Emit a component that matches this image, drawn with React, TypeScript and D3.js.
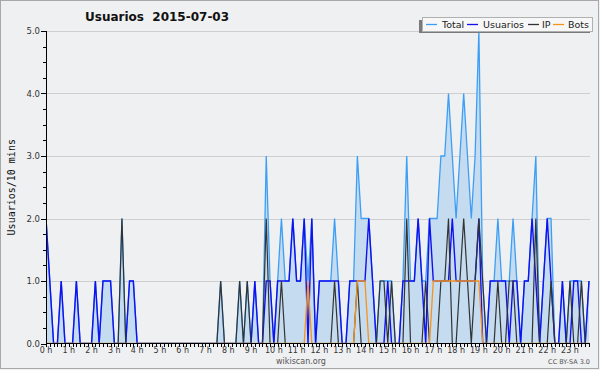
import * as d3 from 'd3';

const W = 600;
const H = 370;
const MARGIN = { top: 31, right: 10, bottom: 27, left: 46 };

// 144 ten-minute slots
const usuarios = [
  2, 1, 0, 0, 1, 0, 0, 0, 1, 0, 0, 0, 0, 1, 0, 1, 1, 1, 0, 0, 0, 0, 1, 1,
  0, 0, 0, 0, 0, 0, 0, 0, 0, 0, 0, 0, 0, 0, 0, 0, 0, 0, 0, 0, 0, 0, 0, 0,
  0, 0, 0, 0, 0, 0, 0, 1, 0, 0, 1, 1, 0, 1, 1, 1, 1, 2, 1, 1, 2, 0, 2, 0,
  1, 1, 1, 1, 1, 1, 0, 0, 1, 1, 1, 1, 1, 2, 1, 0, 0, 0, 1, 0, 0, 0, 1, 1,
  1, 1, 2, 1, 0, 2, 1, 1, 1, 1, 1, 2, 1, 1, 1, 1, 1, 1, 2, 0, 0, 1, 1, 1,
  1, 1, 0, 1, 1, 0, 1, 1, 2, 1, 0, 1, 2, 1, 0, 0, 1, 0, 0, 1, 1, 0, 0, 1,
];

const ip = [
  0, 0, 0, 0, 0, 0, 0, 0, 0, 0, 0, 0, 0, 0, 0, 0, 0, 0, 0, 0, 2, 0, 0, 0,
  0, 0, 0, 0, 0, 0, 0, 0, 0, 0, 0, 0, 0, 0, 0, 0, 0, 0, 0, 0, 0, 0, 1, 0,
  0, 0, 0, 1, 0, 1, 0, 0, 0, 0, 2, 0, 0, 0, 1, 0, 0, 0, 0, 0, 0, 0, 0, 0,
  0, 0, 0, 0, 1, 0, 0, 0, 0, 0, 1, 0, 0, 0, 0, 0, 1, 1, 0, 1, 0, 0, 0, 2,
  0, 0, 0, 0, 1, 0, 0, 0, 1, 1, 2, 0, 0, 1, 2, 1, 0, 1, 2, 1, 0, 0, 0, 1,
  0, 0, 1, 1, 0, 0, 0, 0, 0, 2, 0, 0, 0, 1, 0, 0, 0, 0, 1, 0, 0, 1, 0, 0,
];

const bots = [
  0, 0, 0, 0, 0, 0, 0, 0, 0, 0, 0, 0, 0, 0, 0, 0, 0, 0, 0, 0, 0, 0, 0, 0,
  0, 0, 0, 0, 0, 0, 0, 0, 0, 0, 0, 0, 0, 0, 0, 0, 0, 0, 0, 0, 0, 0, 0, 0,
  0, 0, 0, 0, 0, 0, 0, 0, 0, 0, 0, 0, 0, 0, 0, 0, 0, 0, 0, 0, 0, 1, 0, 0,
  0, 0, 0, 0, 0, 0, 0, 0, 0, 0, 1, 1, 1, 0, 0, 0, 0, 0, 0, 0, 0, 0, 0, 0,
  0, 0, 0, 0, 0, 0, 1, 1, 1, 1, 1, 1, 1, 1, 1, 1, 1, 1, 1, 0, 0, 0, 0, 0,
  0, 0, 0, 0, 0, 0, 0, 0, 0, 0, 0, 0, 0, 0, 0, 0, 0, 0, 0, 0, 0, 0, 0, 0,
];

const total = [
  2, 1, 0, 0, 1, 0, 0, 0, 1, 0, 0, 0, 0, 1, 0, 1, 1, 1, 0, 0, 2, 0, 1, 1,
  0, 0, 0, 0, 0, 0, 0, 0, 0, 0, 0, 0, 0, 0, 0, 0, 0, 0, 0, 0, 0, 0, 1, 0,
  0, 0, 0, 1, 0, 1, 0, 1, 0, 0, 3, 1, 0, 1, 2, 1, 1, 2, 1, 1, 2, 1, 2, 0,
  1, 1, 1, 1, 2, 1, 0, 0, 1, 1, 3, 2, 2, 2, 1, 0, 1, 1, 1, 1, 0, 0, 1, 3,
  1, 1, 2, 1, 1, 2, 2, 2, 3, 3, 4, 3, 2, 3, 4, 3, 2, 3, 5, 1, 0, 1, 1, 2,
  1, 1, 1, 2, 1, 0, 1, 1, 2, 3, 0, 1, 2, 2, 0, 0, 1, 0, 1, 1, 1, 1, 0, 1,
];

const hourLabels = d3.range(24).map(h => `${h} h`);
const yTicks = [0, 1, 2, 3, 4, 5];

const SERIES = [
  { name: 'Total', color: '#3c9ff5', data: total, width: 1.3 },
  { name: 'Usuarios', color: '#1010f0', data: usuarios, width: 1.4 },
  { name: 'IP', color: '#333333', data: ip, width: 1.2 },
  { name: 'Bots', color: '#f7931a', data: bots, width: 1.3 },
];

const FONT = 'DejaVu Sans, sans-serif';

const App = () => {
  const x0 = MARGIN.left;
  const x1 = W - MARGIN.right;
  const y0 = H - MARGIN.bottom;

  const xScale = d3.scaleLinear().domain([0, 143]).range([46, 589]);
  const yScale = d3.scaleLinear().domain([0, 5]).range([343.5, 31]);

  const line = d3
    .line<number>()
    .x((_, i) => xScale(i))
    .y(d => yScale(d));

  const area = d3
    .area<number>()
    .x((_, i) => xScale(i))
    .y0(yScale(0))
    .y1(d => yScale(d));

  const minorY = d3.range(0, 5.001, 0.25).filter(v => v % 1 !== 0);

  const legendItems = [
    { s: SERIES[0], lx: 426, tx: 442 },
    { s: SERIES[1], lx: 467, tx: 483 },
    { s: SERIES[2], lx: 528, tx: 542 },
    { s: SERIES[3], lx: 553, tx: 568 },
  ];

  return (
    <svg
      width={W}
      height={H}
      style={{ position: 'absolute', left: 0, top: 0 }}
      fontFamily={FONT}
    >
      <defs>
        {/* flat zero runs should sit hidden under the x axis */}
        <clipPath id="plotClip">
          <rect x={x0} y={0} width={W - x0} height={y0} />
        </clipPath>
      </defs>
      <rect x={0} y={0} width={W} height={H} fill="#eff0f2" />
      <rect x={0.5} y={0.5} width={W - 2} height={H - 2} fill="none" stroke="#a8a8a8" />

      {/* grid */}
      {yTicks.slice(1).map(v => (
        <line
          key={`g${v}`}
          x1={x0}
          x2={x1}
          y1={Math.round(yScale(v)) + 0.5}
          y2={Math.round(yScale(v)) + 0.5}
          stroke="#cfcfcf"
        />
      ))}

      {/* series */}
      <g clipPath="url(#plotClip)">
        <path d={area(total) ?? ''} fill="#c5dcf0" />
        {SERIES.map(s => (
          <path
            key={s.name}
            d={line(s.data) ?? ''}
            fill="none"
            stroke={s.color}
            strokeWidth={s.width}
            strokeLinejoin="miter"
          />
        ))}
      </g>

      {/* y axis */}
      <line x1={x0 + 0.5} x2={x0 + 0.5} y1={yScale(5)} y2={y0 + 1} stroke="#000" />
      {yTicks.map(v => (
        <g key={`yt${v}`}>
          <line
            x1={x0 - 5}
            x2={x0}
            y1={Math.round(yScale(v)) + 0.5}
            y2={Math.round(yScale(v)) + 0.5}
            stroke="#000"
          />
          <text x={x0 - 6} y={yScale(v) + 3} fontSize={8.5} textAnchor="end" fill="#333">
            {v.toFixed(1)}
          </text>
        </g>
      ))}
      {minorY.map(v => (
        <line
          key={`ym${v}`}
          x1={x0 - 3}
          x2={x0}
          y1={Math.round(yScale(v)) + 0.5}
          y2={Math.round(yScale(v)) + 0.5}
          stroke="#000"
        />
      ))}
      <text
        transform={`translate(15,${(yScale(5) + yScale(0)) / 2}) rotate(-90)`}
        textAnchor="middle"
        fontSize={10}
        fontFamily="DejaVu Sans Mono, monospace"
        fill="#111"
      >
        Usuarios/10 mins
      </text>

      {/* x axis */}
      <line x1={x0} x2={x1} y1={y0 + 0.5} y2={y0 + 0.5} stroke="#000" />
      {d3.range(144).map(i => (
        <line
          key={`xt${i}`}
          x1={Math.round(xScale(i)) + 0.5}
          x2={Math.round(xScale(i)) + 0.5}
          y1={y0}
          y2={y0 + 4}
          stroke="#000"
        />
      ))}
      {hourLabels.map((lab, h) => (
        <text key={lab} x={xScale(h * 6)} y={y0 + 10} fontSize={8} textAnchor="middle" fill="#333">
          {lab}
        </text>
      ))}

      {/* title */}
      <text x={85} y={21} fontSize={12} fontWeight="bold" fill="#111">
        Usuarios{'\u00a0\u00a0'}2015-07-03
      </text>

      {/* legend */}
      <rect x={419} y={20} width={171} height={13} fill="#7a7a7a" />
      <rect x={422.5} y={17.5} width={170} height={14} fill="#f7f7f7" stroke="#b0b0b0" />
      {legendItems.map(({ s, lx, tx }) => (
        <g key={`lg${s.name}`}>
          <line x1={lx} x2={lx + 11} y1={24.5} y2={24.5} stroke={s.color} strokeWidth={1.3} />
          <text x={tx} y={28} fontSize={9.5} fill="#222">
            {s.name}
          </text>
        </g>
      ))}

      {/* footer */}
      <text x={301} y={364} fontSize={8} textAnchor="middle" fill="#555">
        wikiscan.org
      </text>
      <text x={590} y={364} fontSize={6.5} textAnchor="end" fill="#555">
        CC BY-SA 3.0
      </text>
    </svg>
  );
};

export default App;
